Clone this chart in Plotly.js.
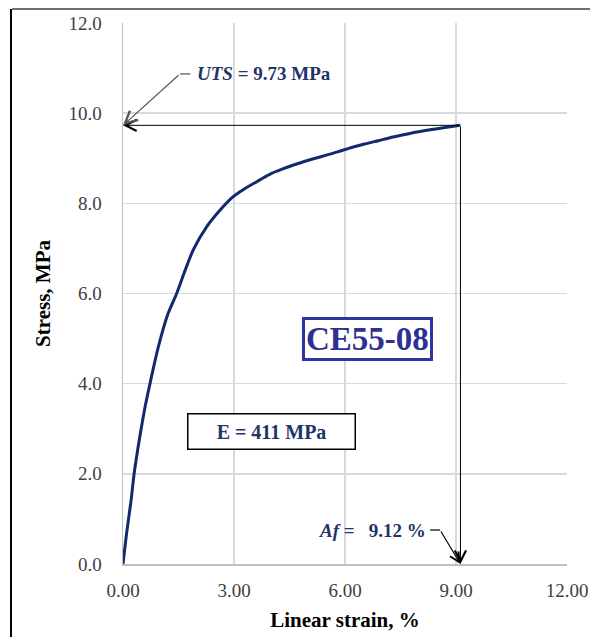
<!DOCTYPE html>
<html>
<head>
<meta charset="utf-8">
<script src="https://cdn.plot.ly/plotly-3.0.1.min.js"></script>
<style>html,body{margin:0;padding:0;background:#fff;}#chart{width:590px;height:637px;}</style>
</head>
<body>
<div id="chart"></div>
<script>
// Stress–strain data
const strain = [0, 0.1, 0.22, 0.3, 0.45, 0.6, 0.75, 0.95, 1.22, 1.45, 1.65, 1.9, 2.26, 2.71, 2.98, 3.3, 3.7, 4.0, 4.3, 4.8, 5.2, 5.5, 5.8, 6.1, 6.5, 6.9, 7.3, 7.75, 8.3, 8.7, 9.12];
const stress = [0, 0.7, 1.42, 2.0, 2.8, 3.5, 4.08, 4.8, 5.56, 6.0, 6.45, 6.97, 7.48, 7.93, 8.15, 8.33, 8.52, 8.66, 8.76, 8.9, 9.0, 9.07, 9.14, 9.22, 9.31, 9.39, 9.47, 9.55, 9.63, 9.68, 9.73];
const UTS = 9.73;      // MPa
const AF = 9.12;       // %
const E_MOD = 411;     // MPa
const SPECIMEN = 'CE55-08';
const xTicks = [0, 3, 6, 9, 12];
const yTicks = [0, 2, 4, 6, 8, 10, 12];

const navy = '#1f3468';
const serif = 'Liberation Serif, Times New Roman, serif';

const trace = {
  x: strain, y: stress, type: 'scatter', mode: 'lines',
  line: {color: '#102a6c', width: 3, shape: 'spline', smoothing: 0.7},
  hoverinfo: 'skip', showlegend: false
};

const layout = {
  width: 590, height: 637,
  margin: {l: 123, r: 23, t: 23, b: 73},
  paper_bgcolor: '#fff', plot_bgcolor: '#fff',
  font: {family: serif, color: '#404040'},
  showlegend: false,
  xaxis: {
    range: [0, 12], tickvals: xTicks, tickformat: '.2f',
    showgrid: true, gridcolor: '#d9d9d9', gridwidth: 1.5,
    zeroline: false, showline: true, linecolor: '#bfbfbf', linewidth: 1.5,
    ticks: '', ticklabelstandoff: 9,
    tickfont: {family: serif, size: 19, color: '#404040'},
    title: {text: '<b>Linear strain, %</b>', font: {family: serif, size: 21, color: '#000'}, standoff: 12}
  },
  yaxis: {
    range: [0, 12], tickvals: yTicks, tickformat: '.1f',
    showgrid: true, gridcolor: '#d9d9d9', gridwidth: 1.5,
    zeroline: false, showline: true, linecolor: '#bfbfbf', linewidth: 1.5,
    ticks: '', ticklabelstandoff: 16,
    tickfont: {family: serif, size: 19, color: '#404040'},
    title: {text: '<b>Stress, MPa</b>', font: {family: serif, size: 21, color: '#000'}, standoff: 12}
  },
  shapes: [
    // outer frame (top and left)
    {type: 'line', xref: 'paper', yref: 'paper', x0: -0.25, x1: 1.06, y0: 1.026, y1: 1.026, line: {color: '#404040', width: 1.5}},
    {type: 'line', xref: 'paper', yref: 'paper', x0: -0.2523, x1: -0.2523, y0: 1.026, y1: -0.2, line: {color: '#000', width: 2}},
    // UTS leader horizontal piece
    {type: 'line', xref: 'x', yref: 'y', x0: 1.54, x1: 1.82, y0: 10.87, y1: 10.87, line: {color: '#555', width: 1.2}},
    // Af leader horizontal piece
    {type: 'line', xref: 'x', yref: 'y', x0: 8.3, x1: 8.57, y0: 0.754, y1: 0.754, line: {color: '#000', width: 1.2}}
  ],
  annotations: [
    // horizontal UTS arrow
    {x: 0, y: UTS, ax: AF, ay: UTS, xref: 'x', yref: 'y', axref: 'x', ayref: 'y', text: '', showarrow: true,
     arrowhead: 5, arrowsize: 2.2, arrowwidth: 1, arrowcolor: '#000'},
    // vertical Af arrow
    {x: AF, y: 0, ax: AF, ay: UTS, xref: 'x', yref: 'y', axref: 'x', ayref: 'y', text: '', showarrow: true,
     arrowhead: 5, arrowsize: 2.2, arrowwidth: 1, arrowcolor: '#000'},
    // UTS diagonal leader
    {x: 0, y: UTS, ax: 1.54, ay: 10.87, xref: 'x', yref: 'y', axref: 'x', ayref: 'y', text: '', showarrow: true,
     arrowhead: 5, arrowsize: 2, arrowwidth: 1.2, arrowcolor: '#555'},
    // Af diagonal leader
    {x: AF, y: 0, ax: 8.57, ay: 0.754, xref: 'x', yref: 'y', axref: 'x', ayref: 'y', text: '', showarrow: true,
     arrowhead: 5, arrowsize: 1.6, arrowwidth: 1.2, arrowcolor: '#000'},
    // UTS label
    {x: 1.95, y: 10.87, xref: 'x', yref: 'y', xanchor: 'left', yanchor: 'middle', showarrow: false,
     text: '<b><i>UTS</i> = ' + UTS.toFixed(2) + ' MPa</b>', font: {family: serif, size: 19, color: navy}},
    // Af label
    {x: 8.24, y: 0.754, xref: 'x', yref: 'y', xanchor: 'right', yanchor: 'middle', showarrow: false,
     text: '<b><i>Af</i> =   ' + AF.toFixed(2) + ' %</b>', font: {family: serif, size: 19, color: navy}},
    // specimen box
    {x: 6.62, y: 4.99, xref: 'x', yref: 'y', xanchor: 'center', yanchor: 'middle', showarrow: false,
     text: '<b>' + SPECIMEN + '</b>', font: {family: serif, size: 33, color: '#2e3192'},
     bgcolor: '#fff', bordercolor: '#2e35a0', borderwidth: 3, borderpad: 1},
    // modulus box
    {x: 4.0, y: 2.95, xref: 'x', yref: 'y', xanchor: 'center', yanchor: 'middle', showarrow: false,
     text: '<b>E = ' + E_MOD + ' MPa</b>', font: {family: serif, size: 20, color: navy},
     bgcolor: '#fff', bordercolor: '#000', borderwidth: 1.5, width: 164, height: 32}
  ]
};

Plotly.newPlot('chart', [trace], layout, {displayModeBar: false, staticPlot: true});
</script>
</body>
</html>
